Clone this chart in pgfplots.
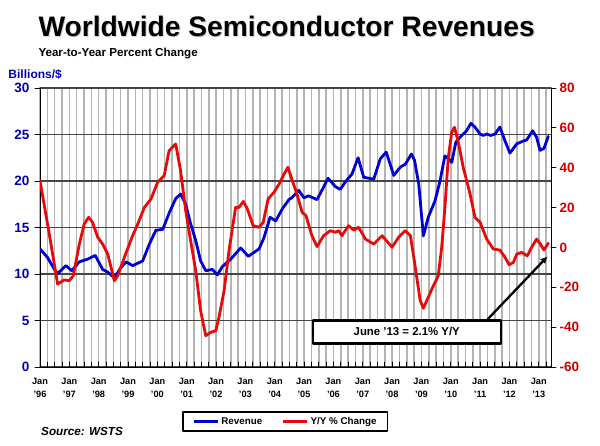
\documentclass[border=0pt]{standalone}
\usepackage{pgfplots}
\pgfplotsset{compat=1.18}
\usepackage{fontspec}
\setmainfont{Liberation Sans}
\usetikzlibrary{arrows.meta}
\definecolor{revblue}{RGB}{0,0,210}
\definecolor{yyred}{RGB}{230,10,10}
\definecolor{lblblue}{RGB}{0,0,175}
\definecolor{lblred}{RGB}{205,0,0}
\definecolor{hgrid}{RGB}{70,70,70}
\definecolor{vgrid}{RGB}{180,180,180}
\begin{document}
\begin{tikzpicture}[x=1bp,y=1bp]
% titles
\node[anchor=base west, inner sep=0pt, text=black!18, font=\bfseries\fontsize{28.2bp}{32bp}\selectfont] at (39.3bp,408bp) {Worldwide Semiconductor Revenues};
\node[anchor=base west, inner sep=0pt, font=\bfseries\fontsize{28.2bp}{32bp}\selectfont] at (38.3bp,409bp) {Worldwide Semiconductor Revenues};
\node[anchor=base west, inner sep=0pt, font=\bfseries\fontsize{11.6bp}{14bp}\selectfont] at (38.3bp,389bp) {Year-to-Year Percent Change};
\node[anchor=base west, inner sep=0pt, text=lblblue, font=\bfseries\fontsize{12bp}{14bp}\selectfont] at (8.3bp,367bp) {Billions/\$};
\node[anchor=base west, inner sep=0pt, font=\bfseries\itshape\fontsize{11.7bp}{14bp}\selectfont] at (41bp,10.5bp) {Source: WSTS};

\begin{axis}[
  at={(40bp,79bp)}, anchor=south west,
  scale only axis, width=511bp, height=279bp,
  xmin=0, xmax=209, ymin=0, ymax=30,
  axis x line*=bottom, axis y line*=left,
  axis line style={black, line width=1bp, -},
  xtick={0,12,...,204},
  xticklabels={Jan\\'96,Jan\\'97,Jan\\'98,Jan\\'99,Jan\\'00,Jan\\'01,Jan\\'02,Jan\\'03,Jan\\'04,Jan\\'05,Jan\\'06,Jan\\'07,Jan\\'08,Jan\\'09,Jan\\'10,Jan\\'11,Jan\\'12,Jan\\'13},
  minor xtick={3,6,...,207},
  xtick align=inside,
  ytick align=outside,
  major x tick style={black, line width=0.6bp},
  minor x tick style={black, line width=0.6bp},
  major tick length=5bp, minor tick length=5bp,
  xmajorgrids, xminorgrids,
  major x grid style={vgrid, line width=1.6bp},
  minor x grid style={vgrid, line width=1.6bp},
  ytick={0,5,...,30},
  yticklabels={0,5,10,15,20,25,30},
  ymajorgrids,
  major y grid style={hgrid, line width=1.2bp},
  y tick style={black, line width=0.8bp},
  xticklabel style={align=center, font=\bfseries\fontsize{9.2bp}{13bp}\selectfont, yshift=-8bp},
  yticklabel style={text=lblblue, font=\bfseries\fontsize{13.5bp}{15bp}\selectfont, xshift=-2bp},
  line join=round, line cap=round,
]
\addplot[revblue, line width=2.8bp] coordinates {
(0,12.7)(3,11.8)(7,10.0)(10.6,10.9)(13,10.35)(16,11.3)(19.5,11.6)(22.6,12.0)(25.6,10.5)(27.7,10.2)(30.4,9.6)(33.1,10.7)(35.2,11.3)(37.9,10.9)(42,11.4)(44.7,13.2)(47.4,14.7)(50.2,14.8)(52.9,16.6)(55.5,18.1)(57.5,18.6)(59.6,17.5)(61.6,15.4)(63.7,13.6)(65.7,11.4)(67.8,10.35)(70.5,10.5)(72.5,9.9)(74.6,10.8)(78,11.6)(82.1,12.8)(85.2,11.9)(89.6,12.7)(91.6,13.9)(94.1,16.1)(96.4,15.7)(99.1,17.0)(101.8,18.0)(103,18.2)(105.8,19.0)(107.9,18.2)(109.9,18.4)(113.3,18.0)(115.3,19.0)(117.8,20.3)(120.8,19.4)(122.8,19.1)(124.9,19.9)(127.6,20.75)(130.1,22.5)(132.4,20.4)(136.5,20.2)(139.2,22.4)(141.6,23.1)(144.7,20.6)(147.4,21.5)(149.4,21.8)(151.9,22.9)(153.2,22.2)(154.9,19.7)(156.8,14.1)(158.8,16.1)(161.6,17.9)(163.6,20.0)(165.6,22.7)(167,22.4)(168.4,22.0)(170.1,24.2)(172.5,24.9)(174.5,25.4)(176.2,26.2)(177.9,25.8)(180,25.05)(181.3,24.9)(182.7,25.05)(184.3,24.9)(186.1,25.05)(188.1,25.8)(190.2,24.3)(192.2,23.0)(195,24.0)(197.7,24.3)(199,24.4)(201.5,25.4)(203.1,24.7)(204.5,23.3)(206.1,23.5)(207.9,24.8)
};
\end{axis}

\begin{axis}[
  at={(40bp,79bp)}, anchor=south west,
  scale only axis, width=511bp, height=279bp,
  xmin=0, xmax=209, ymin=-60, ymax=80,
  axis x line=none, axis y line*=right,
  axis line style={black, line width=1bp, -},
  ytick={-60,-40,...,80},
  yticklabels={-60,-40,-20,0,20,40,60,80},
  tick align=outside,
  major tick length=5bp,
  y tick style={black, line width=0.8bp},
  yticklabel style={text=lblred, font=\bfseries\fontsize{13.5bp}{15bp}\selectfont, xshift=0bp},
  line join=round, line cap=round,
  legend columns=2,
  legend style={at={(rel axis cs:0.480,-0.1953)}, anchor=center, draw=black, line width=1.1bp, fill=white,
    font=\bfseries\fontsize{9.8bp}{12bp}\selectfont, inner xsep=9bp, inner ysep=3.2bp,
    /tikz/every even column/.append style={column sep=17bp}},
  legend image code/.code={\draw[#1, line width=3.4bp, line cap=butt] (0bp,0bp) -- (24bp,0bp);},
]
\addlegendimage{revblue}
\addlegendentry{Revenue}
\addplot[yyred, line width=2.8bp] coordinates {
(0,33.5)(3.8,6.7)(7.2,-18.4)(9.9,-16.3)(12,-16.7)(13.6,-14.2)(16.1,1.7)(18.1,11.8)(19.9,15.1)(21.5,12.6)(23.6,5.1)(25.6,1.7)(27.7,-3.3)(30.4,-16.7)(31.8,-14.2)(34.5,-5.0)(37.9,5.9)(40,11.8)(42.7,20.1)(45.4,24.3)(48.1,32.7)(50.8,36.0)(52.8,48.5)(54.1,50.2)(55.5,51.9)(57.5,38.5)(59.6,18.4)(61.6,3.4)(63.7,-11.7)(65.7,-31.8)(67.8,-44.3)(69.8,-42.6)(71.9,-41.8)(73.2,-35.1)(75.3,-21.7)(77.3,-1.6)(80,20.1)(81.4,20.1)(83.2,23.1)(84.8,19.3)(87.2,10.9)(89.6,10.1)(91.3,12.6)(93.3,24.3)(95.7,27.7)(97.8,31.8)(99.8,36.8)(101.4,40.2)(103.2,33.5)(105.1,26.8)(107.2,17.6)(108.8,15.9)(111.2,5.9)(113.3,0.4)(116,5.9)(118.7,8.4)(120.8,7.6)(122.2,8.4)(123.5,5.9)(126.2,10.9)(128.3,8.7)(130.3,10.1)(133.1,4.2)(136.5,1.7)(139.9,5.9)(144,0.1)(146.7,5.1)(149.4,8.4)(151.5,5.9)(153.5,-10.0)(155.5,-26.7)(156.8,-30.5)(158.8,-25.0)(160.9,-19.2)(162.9,-14.2)(164.3,0.1)(165.6,20.1)(167,45.2)(168.4,57.8)(169.5,60.3)(171.1,52.7)(173.1,40.2)(175.9,26.8)(177.9,15.1)(180,12.6)(182.7,4.2)(185.4,-0.8)(188.1,-1.3)(190.2,-5.0)(191.9,-8.7)(193.6,-7.5)(195,-3.3)(197,-2.5)(199.3,-4.2)(201.1,0.1)(203.1,4.2)(204.5,2.0)(206.1,-1.3)(207.9,2.1)
};
\addlegendentry{Y/Y \% Change}
\draw[black, line width=2.3bp, -{Latex[length=7bp,width=7bp]}] (axis cs:183.2,-35.9) -- (axis cs:207.6,-4.5);
\node[draw=black, line width=2.4bp, fill=white, minimum width=188bp, minimum height=23bp, inner sep=0pt,
  font=\bfseries\fontsize{11.4bp}{13bp}\selectfont] at (axis cs:150,-42.4) {June '13 = 2.1\% Y/Y};
\end{axis}
\pgfresetboundingbox
\path[use as bounding box] (0bp,0bp) rectangle (600bp,446bp);
\end{tikzpicture}
\end{document}
